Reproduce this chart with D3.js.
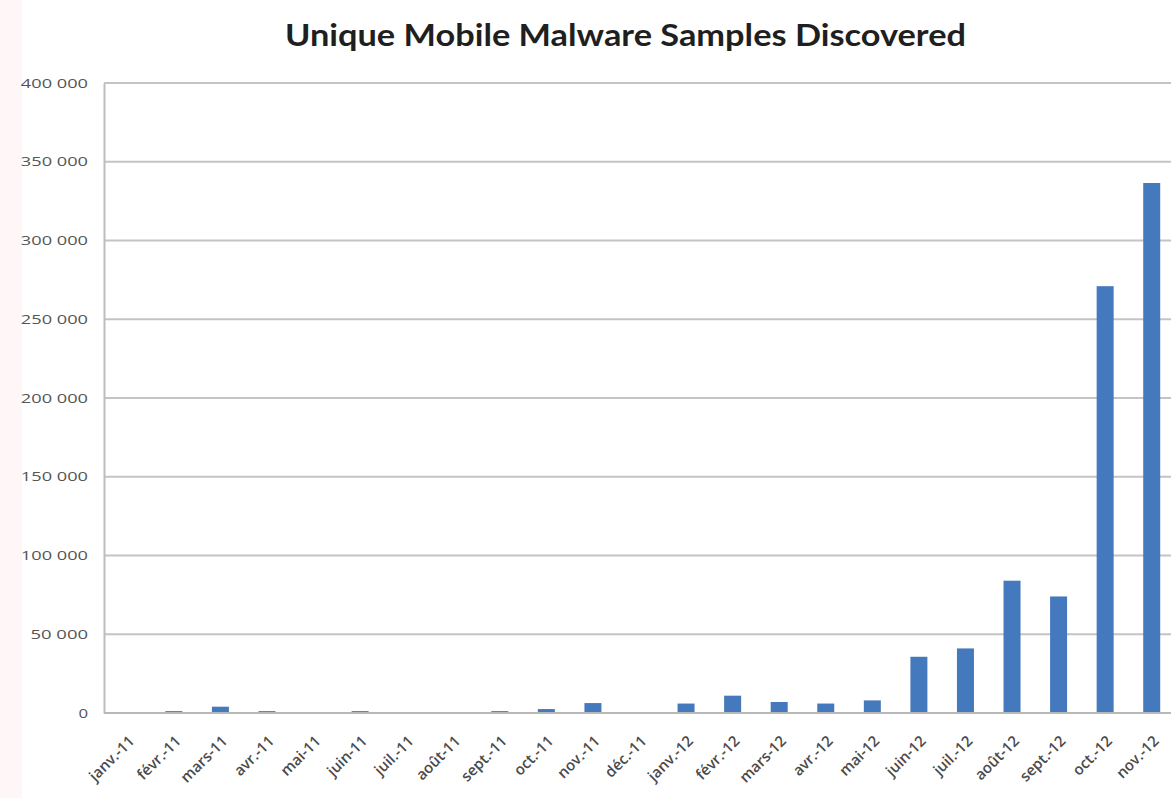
<!DOCTYPE html>
<html><head><meta charset="utf-8">
<script src="https://cdn.jsdelivr.net/npm/d3@7"></script>
<style>body{margin:0;background:#fff;}svg{display:block;}</style>
</head><body>
<svg id="c" width="1171" height="798"></svg>
<script>
const months = ["janv.-11","févr.-11","mars-11","avr.-11","mai-11","juin-11","juil.-11","août-11","sept.-11","oct.-11","nov.-11","déc.-11","janv.-12","févr.-12","mars-12","avr.-12","mai-12","juin-12","juil.-12","août-12","sept.-12","oct.-12","nov.-12"];
const samples = [0,1200,4000,1200,0,1200,0,0,1200,2500,6300,0,6000,11000,7000,6000,8000,35700,41000,84000,74000,271000,336500];
const yTicks = [0,50000,100000,150000,200000,250000,300000,350000,400000];
const title = "Unique Mobile Malware Samples Discovered";

const svg = d3.select("#c");
const mL = 104, mR = 1175, mT = 83, mB = 713;
const x = d3.scaleBand().domain(months).range([mL, mR]).paddingInner(0.635).paddingOuter(0.3175);
const y = d3.scaleLinear().domain([0, 400000]).range([mB, mT]);
const fmt = v => d3.format(",")(v).replace(/,/g, " ");

// faint pinkish left edge tint
svg.append("rect").attr("x", 0).attr("y", 0).attr("width", 22).attr("height", 798).attr("fill", "#fff6f7");

svg.append("text").attr("x", 285).attr("y", 46)
  .attr("font-family", "Lato, 'Open Sans', sans-serif").attr("font-weight", "bold")
  .attr("font-size", 31).attr("fill", "#1f1f1f")
  .attr("textLength", 681).attr("lengthAdjust", "spacingAndGlyphs").text(title);

// gridlines
svg.append("g").selectAll("line").data(yTicks.filter(d => d > 0)).join("line")
  .attr("x1", mL).attr("x2", 1171).attr("y1", d => y(d)).attr("y2", d => y(d))
  .attr("stroke", "#c4c4c4").attr("stroke-width", 2);

// bars
svg.append("g").selectAll("rect").data(months).join("rect")
  .attr("x", d => x(d)).attr("width", x.bandwidth())
  .attr("y", (d, i) => y(samples[i])).attr("height", (d, i) => mB - y(samples[i]))
  .attr("fill", "#4579bd");

// y axis
const ya = svg.append("g").attr("transform", `translate(${mL},0)`)
  .call(d3.axisLeft(y).tickValues(yTicks).tickFormat(fmt).tickSize(0).tickPadding(16));
ya.select(".domain").attr("stroke", "#bdbdbd").attr("stroke-width", 2);
ya.selectAll("text").attr("font-family", "'Open Sans', sans-serif").attr("font-size", 13).attr("fill", "#555")
  .each(function(d) { const s = fmt(d); d3.select(this).attr("textLength", s.length * 9.6).attr("lengthAdjust", "spacingAndGlyphs"); });

// baseline
svg.append("line").attr("x1", mL).attr("x2", 1171).attr("y1", mB).attr("y2", mB)
  .attr("stroke", "#b8b8b8").attr("stroke-width", 2);

// x axis labels
const xa = svg.append("g").attr("transform", `translate(0,${mB})`)
  .call(d3.axisBottom(x).tickSize(0).tickPadding(0));
xa.select(".domain").remove();
xa.selectAll("text")
  .attr("font-family", "'Open Sans', sans-serif").attr("font-size", 15).attr("font-weight", 600).attr("fill", "#4a4a4a")
  .attr("text-anchor", "end").attr("dy", 0)
  .attr("transform", "translate(8,29) rotate(-45)");
</script>
</body></html>
